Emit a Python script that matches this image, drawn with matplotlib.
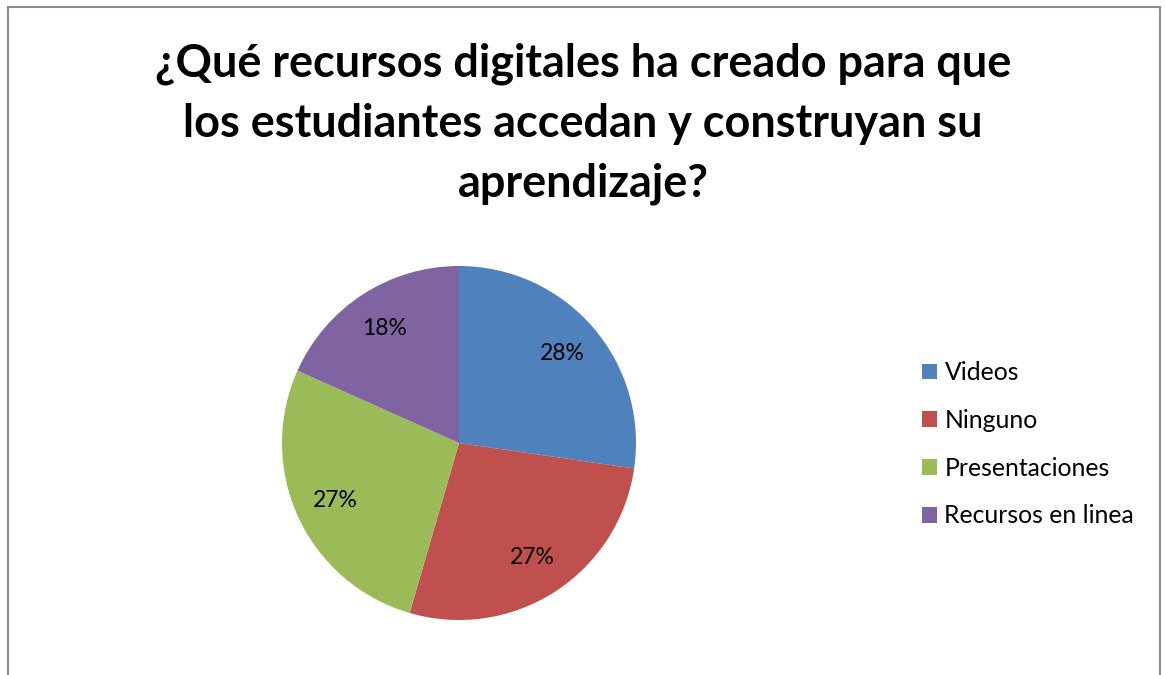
import numpy as np
import matplotlib.pyplot as plt
from matplotlib.patches import Rectangle, Patch

categorias = ["Videos", "Ninguno", "Presentaciones", "Recursos en linea"]
porcentajes = [27.3, 27.2, 27.2, 18.3]
etiquetas = ["28%", "27%", "27%", "18%"]
colores = ["#4F81BD", "#C0504D", "#9BBB59", "#8064A2"]
titulo = "¿Qué recursos digitales ha creado para que\nlos estudiantes accedan y construyan su\naprendizaje?"

W, H = 1165, 675
fig = plt.figure(figsize=(W / 100, H / 100), dpi=100)
plt.rcParams['font.family'] = ['Lato', 'DejaVu Sans']

# marco gris del grafico
fig.patches.append(Rectangle((8 / W, -0.1), (1160 - 8) / W, 1.1 - 7 / H,
                             transform=fig.transFigure, fill=False,
                             edgecolor="#8c8c8c", linewidth=1.5))

fig.text(583 / W, 1 - 124 / H, titulo, ha="center", va="center",
         fontsize=32.4, fontweight="bold", linespacing=1.52)

# pastel
cx, cy, r = 459, 443, 177
ax = fig.add_axes([(cx - r) / W, (H - cy - r) / H, 2 * r / W, 2 * r / H])
wedges, textos, pcts = ax.pie(porcentajes, colors=colores, startangle=90,
                              counterclock=False, autopct="%d%%",
                              pctdistance=0.77, radius=1,
                              textprops={"fontsize": 16.5, "color": "black"})
for t, e in zip(pcts, etiquetas):
    t.set_text(e)
ax.set_xlim(-1, 1)
ax.set_ylim(-1, 1)
ax.axis("off")

# leyenda
handles = [Patch(facecolor=c, edgecolor="none") for c in colores]
fig.legend(handles, categorias, loc="upper left",
           bbox_to_anchor=(900 / W, 1 - 339 / H), frameon=False,
           fontsize=17.8, handlelength=0.6, handleheight=0.6,
           handletextpad=0.3, labelspacing=1.0)

fig.savefig("out.png", dpi=100)
